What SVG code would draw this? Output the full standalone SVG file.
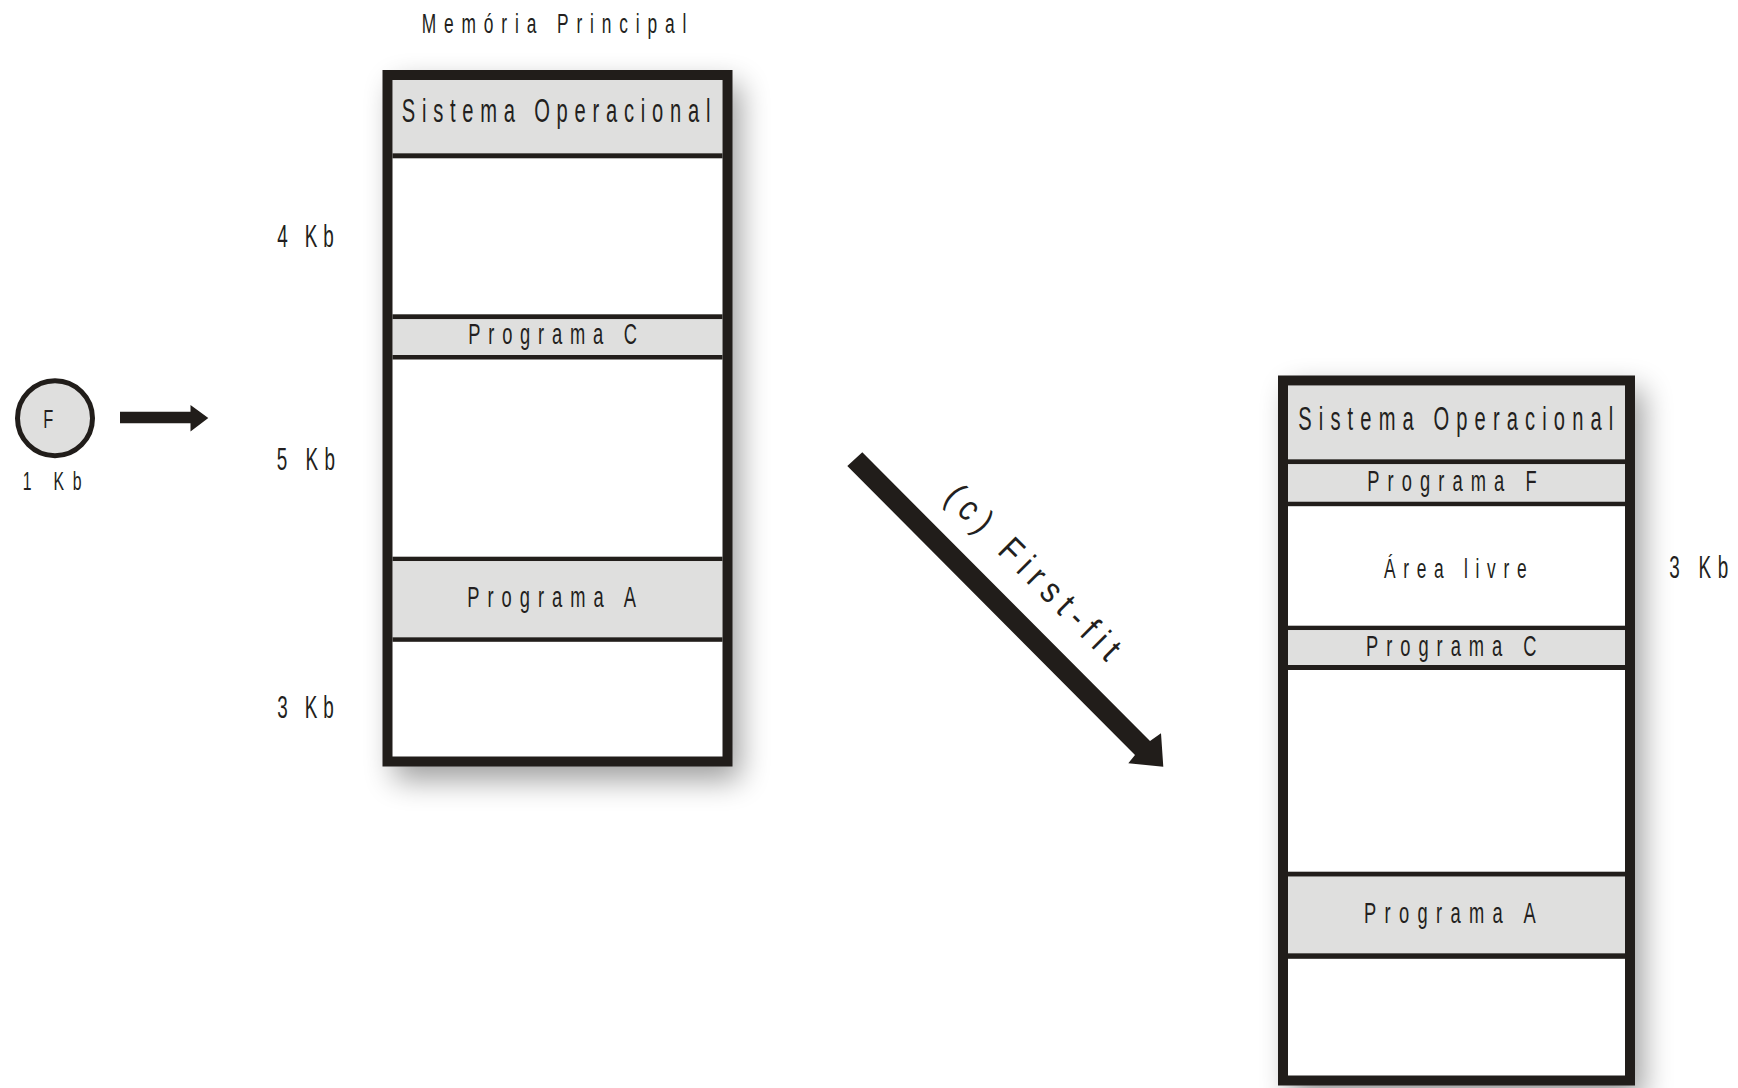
<svg xmlns="http://www.w3.org/2000/svg" width="1738" height="1088" viewBox="0 0 1738 1088">
<defs>
<filter id="blur" x="-30%" y="-30%" width="160%" height="160%"><feGaussianBlur stdDeviation="15"/></filter>
<style>
.t{font-family:"Liberation Sans","DejaVu Sans",Arial,sans-serif;fill:#231f20;}
.gray{fill:#dfdfde;}
.white{fill:#ffffff;}
.div{fill:#221e1b;}
.frame{fill:none;stroke:#211d1a;stroke-width:10;}
.shadow{fill:#000;opacity:0.38;filter:url(#blur);}
.dark{fill:#211d1a;}
</style>
</defs>
<rect width="1738" height="1088" fill="#ffffff"/>

<text class="t" font-size="28" transform="translate(421.7,33.3) scale(0.62,1)" textLength="427" lengthAdjust="spacing">Memória Principal</text>

<g id="memoria-antes">
<rect class="shadow" x="394" y="84" width="346" height="696"/>
<rect class="white" x="387.5" y="75" width="340" height="686.5"/>
<g id="so-antes">
<rect class="gray" x="392.5" y="79" width="330" height="74.3"/>
<text class="t" font-size="32.5" transform="translate(401.7,121.7) scale(0.62,1)" textLength="498" lengthAdjust="spacing">Sistema Operacional</text>
</g>
<rect class="div" x="392.5" y="153.3" width="330" height="5"/>
<g id="livre4-antes"></g>
<rect class="div" x="392.5" y="314.3" width="330" height="5"/>
<g id="pc-antes">
<rect class="gray" x="392.5" y="319.3" width="330" height="35.7"/>
<text class="t" font-size="29.5" transform="translate(468.3,344.3) scale(0.62,1)" textLength="272" lengthAdjust="spacing">Programa C</text>
</g>
<rect class="div" x="392.5" y="355" width="330" height="4.5"/>
<rect class="div" x="392.5" y="556.7" width="330" height="4.5"/>
<g id="pa-antes">
<rect class="gray" x="392.5" y="561.2" width="330" height="76.1"/>
<text class="t" font-size="29.5" transform="translate(467.3,606.7) scale(0.62,1)" textLength="272" lengthAdjust="spacing">Programa A</text>
</g>
<rect class="div" x="392.5" y="637.3" width="330" height="4.5"/>
<rect class="frame" x="387.5" y="75" width="340" height="686.5"/>
</g>

<g id="labels-antes">
<text class="t" font-size="30.5" transform="translate(277.3,247.3) scale(0.62,1)" textLength="91" lengthAdjust="spacing">4 Kb</text>
<text class="t" font-size="30.5" transform="translate(276.7,470) scale(0.62,1)" textLength="94" lengthAdjust="spacing">5 Kb</text>
<text class="t" font-size="30.5" transform="translate(277.3,718.3) scale(0.62,1)" textLength="91" lengthAdjust="spacing">3 Kb</text>
</g>

<g id="processo-f">
<circle cx="55" cy="418.3" r="37.5" fill="#dfdfde" stroke="#211d1a" stroke-width="5"/>
<text class="t" font-size="26.5" transform="translate(48.3,428.3) scale(0.62,1)" text-anchor="middle">F</text>
<text class="t" font-size="25.5" transform="translate(22.7,490) scale(0.62,1)" textLength="95" lengthAdjust="spacing">1 Kb</text>
</g>

<g id="memoria-depois">
<rect class="shadow" x="1290" y="389" width="353" height="712"/>
<rect class="white" x="1283" y="380.5" width="347" height="700"/>
<g id="so-depois">
<rect class="gray" x="1288" y="386" width="337" height="73.3"/>
<text class="t" font-size="32.5" transform="translate(1298.3,430) scale(0.62,1)" textLength="508" lengthAdjust="spacing">Sistema Operacional</text>
</g>
<rect class="div" x="1288" y="459.3" width="337" height="5"/>
<g id="pf-depois">
<rect class="gray" x="1288" y="464.3" width="337" height="37.4"/>
<text class="t" font-size="29.5" transform="translate(1367.3,490.7) scale(0.62,1)" textLength="273" lengthAdjust="spacing">Programa F</text>
</g>
<rect class="div" x="1288" y="501.7" width="337" height="4.5"/>
<g id="area-livre">
<text class="t" font-size="28" transform="translate(1384,578.3) scale(0.62,1)" textLength="230" lengthAdjust="spacing">Área livre</text>
</g>
<rect class="div" x="1288" y="625.7" width="337" height="4.5"/>
<g id="pc-depois">
<rect class="gray" x="1288" y="630.2" width="337" height="34.8"/>
<text class="t" font-size="29.5" transform="translate(1366,656) scale(0.62,1)" textLength="275" lengthAdjust="spacing">Programa C</text>
</g>
<rect class="div" x="1288" y="665" width="337" height="5"/>
<rect class="div" x="1288" y="871.7" width="337" height="5"/>
<g id="pa-depois">
<rect class="gray" x="1288" y="876.7" width="337" height="76.6"/>
<text class="t" font-size="29.5" transform="translate(1364,922.7) scale(0.62,1)" textLength="277" lengthAdjust="spacing">Programa A</text>
</g>
<rect class="div" x="1288" y="953.3" width="337" height="5.5"/>
<rect class="frame" x="1283" y="380.5" width="347" height="700"/>
<text class="t" font-size="30.5" transform="translate(1669.3,578.3) scale(0.62,1)" textLength="95" lengthAdjust="spacing">3 Kb</text>
</g>

<g id="connectors">
<polygon class="dark" points="120,411.7 190.5,411.7 190.5,405 208.3,418 190.5,431.5 190.5,423.3 120,423.3"/>
<polygon class="dark" points="862.3,452.3 1150,741 1161,733.3 1163.3,766.7 1128.3,763.3 1135,755 847.3,466"/>
<text class="t" font-size="36" transform="translate(943,499) rotate(45) scale(0.85,1)" textLength="272" lengthAdjust="spacing">(c) First-fit</text>
</g>
</svg>
